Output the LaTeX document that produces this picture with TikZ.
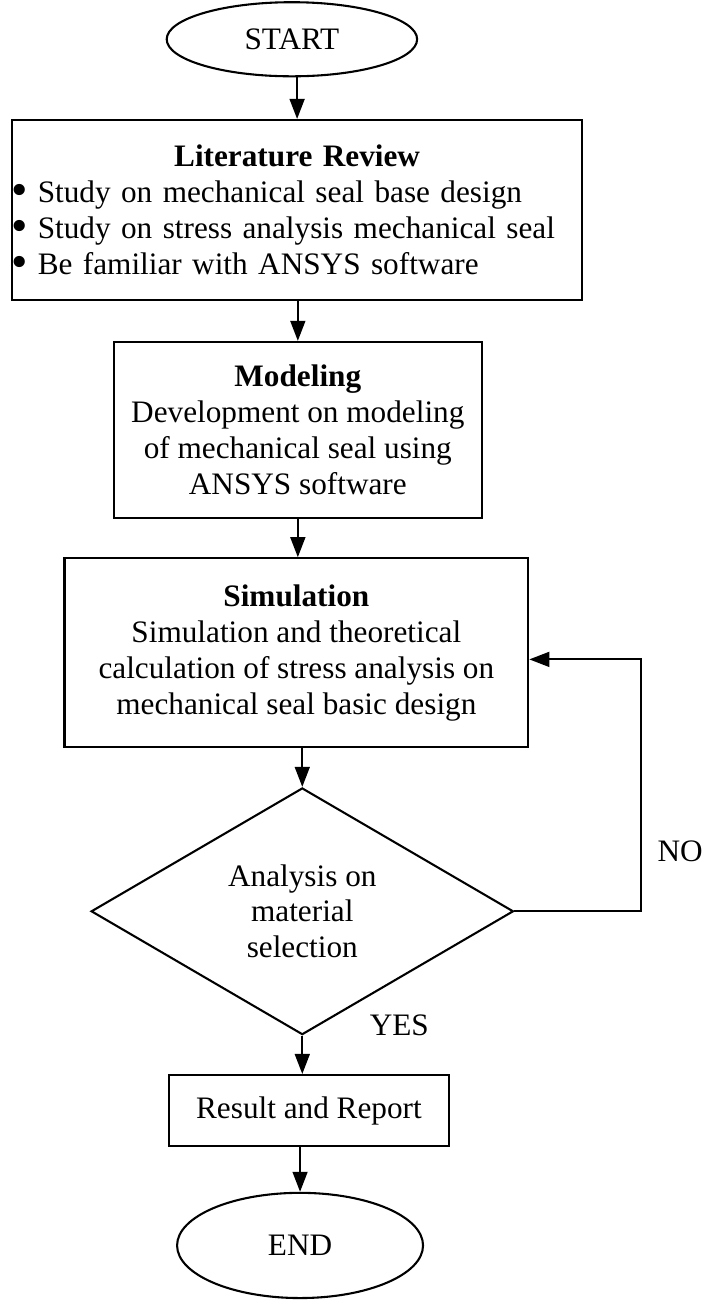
\documentclass[tikz,border=0pt]{standalone}
\usepackage{fontspec}
\setmainfont{Liberation Serif}
\usepackage{tikz}
\usetikzlibrary{shapes.geometric,arrows.meta}
\newcommand{\bigdot}{\makebox[0.83em][l]{\smash{\raisebox{-0.1em}{\fontsize{18}{0}\selectfont\textbullet}}}}

\begin{document}
\begin{tikzpicture}[font=\fontsize{12}{13.8}\selectfont, line width=0.8pt,
    box/.style={draw, rectangle, align=center, inner sep=0pt},
    oval/.style={draw, ellipse, inner sep=0pt},
    decision/.style={draw, diamond, align=center, inner sep=0pt},
    arr/.style={-{Triangle[length=2.7mm,width=2.0mm]}}]
\useasboundingbox (0,0) rectangle (9.53,-17.56);
\node[oval, minimum width=3.38cm, minimum height=1.00cm] (start) at (3.94,-0.53) {START};
\node[box, minimum width=7.70cm, minimum height=2.43cm, text width=7.70cm, align=left] (lit) at (4.01,-2.835) {\centerline{\textbf{Literature Review}}
\bigdot Study on mechanical seal base design\\
\bigdot Study on stress analysis mechanical seal\\
\bigdot Be familiar with ANSYS software};
\node[box, minimum width=4.97cm, minimum height=2.38cm] (model) at (4.02,-5.805) {\textbf{Modeling}\\Development on modeling\\of mechanical seal using\\ANSYS software};
\node[box, minimum width=6.26cm, minimum height=2.55cm] (sim) at (4.00,-8.81) {\textbf{Simulation}\\Simulation and theoretical\\calculation of stress analysis on\\mechanical seal basic design};
\node[decision, minimum width=5.70cm, minimum height=3.33cm] (dia) at (4.08,-12.30) {Analysis on\\material\\selection};
\node[box, minimum width=3.78cm, minimum height=0.96cm] (res) at (4.17,-14.99) {Result and Report};
\node[oval, minimum width=3.32cm, minimum height=1.42cm] (end) at (4.05,-16.81) {END};
\node (no) at (9.18,-11.49) {NO};
\node (yes) at (5.39,-13.84) {YES};
\coordinate (loop) at (8.65,-8.90);
\draw[arr] (lit.north |- start.south) -- (lit.north);
\draw[arr] (model.north |- lit.south) -- (model.north);
\draw[arr] (model.south) -- (model.south |- sim.north);
\draw[arr] (dia.north |- sim.south) -- (dia.north);
\draw[arr] (dia.south) -- (dia.south |- res.north);
\draw[arr] (end.north |- res.south) -- (end.north);
\draw[arr] (dia.east) -| (loop) -- (sim.east |- loop);
\end{tikzpicture}
\end{document}
